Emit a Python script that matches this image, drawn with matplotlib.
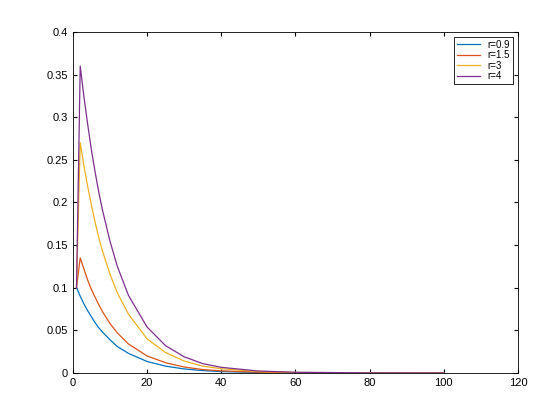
import matplotlib
matplotlib.use("Agg")
import matplotlib.pyplot as plt

plt.rcParams['font.family'] = ['Liberation Sans', 'DejaVu Sans']

# values
x = [1, 2, 3, 4, 5, 6, 7, 8, 10, 12, 15, 20, 25, 30, 35, 40, 50, 60, 80, 100]
r09 = [0.10, 0.09, 0.081, 0.073, 0.066, 0.059, 0.053, 0.048, 0.039, 0.031, 0.023, 0.0135,
       0.008, 0.0047, 0.0028, 0.0016, 0.0006, 0.0002, 0.00003, 0.0]
r15 = [0.10, 0.135, 0.122, 0.109, 0.098, 0.089, 0.080, 0.072, 0.058, 0.047, 0.034, 0.020,
       0.012, 0.007, 0.004, 0.0025, 0.0009, 0.0003, 0.00005, 0.0]
r3 = [0.10, 0.27, 0.243, 0.219, 0.197, 0.177, 0.159, 0.143, 0.116, 0.094, 0.069, 0.040,
      0.024, 0.014, 0.008, 0.005, 0.0017, 0.0006, 0.0001, 0.0]
r4 = [0.10, 0.36, 0.324, 0.292, 0.262, 0.236, 0.212, 0.191, 0.155, 0.125, 0.091, 0.054,
      0.032, 0.019, 0.011, 0.0066, 0.0023, 0.0008, 0.0001, 0.0]
labels = ["r=0.9", "r=1.5", "r=3", "r=4"]
colors = ["#0072BD", "#D95319", "#EDB120", "#7E2F8E"]

fig = plt.figure(figsize=(5.6, 4.2), dpi=100)
ax = fig.add_axes([0.13, 0.112, 0.795, 0.812])
for y, lab, c in zip([r09, r15, r3, r4], labels, colors):
    ax.plot(x, y, color=c, linewidth=0.9, label=lab)

ax.set_xlim(0, 120)
ax.set_ylim(0, 0.4)
ax.set_xticks(range(0, 121, 20))
ax.set_yticks([0, 0.05, 0.1, 0.15, 0.2, 0.25, 0.3, 0.35, 0.4])
ax.set_yticklabels(["0", "0.05", "0.1", "0.15", "0.2", "0.25", "0.3", "0.35", "0.4"])
ax.tick_params(direction="in", labelsize=8, length=3, top=True, right=True)
for s in ax.spines.values():
    s.set_linewidth(0.6)

leg = ax.legend(loc="upper right", fontsize=7, fancybox=False, framealpha=1,
                edgecolor="black", handlelength=2.4, borderpad=0.3, labelspacing=0.05)
leg.get_frame().set_linewidth(0.6)

fig.savefig("out.png", dpi=100)
